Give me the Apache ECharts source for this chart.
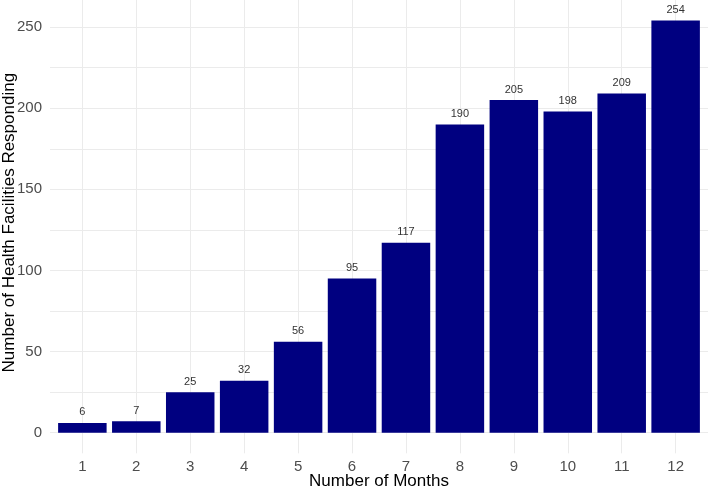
<!DOCTYPE html>
<html>
<head>
<meta charset="utf-8">
<script src="https://cdn.jsdelivr.net/npm/echarts@6/dist/echarts.min.js"></script>
<style>html,body{margin:0;padding:0;background:#fff}#c{width:708px;height:491px}</style>
</head>
<body>
<div id="c"></div>
<script>
const months = [1, 2, 3, 4, 5, 6, 7, 8, 9, 10, 11, 12];
const facilities = [6, 7, 25, 32, 56, 95, 117, 190, 205, 198, 209, 254];
const yTickLabels = [0, 50, 100, 150, 200, 250];
const yGridLines = [0, 25, 50, 75, 100, 125, 150, 175, 200, 225, 250];

const chart = echarts.init(document.getElementById('c'), null, {renderer: 'canvas'});
const font = '"Liberation Sans", Arial, sans-serif';
const option = {
  animation: false,
  grid: {left: 50, right: 0, top: 0, bottom: 37.7, containLabel: false, outerBoundsMode: 'none'},
  xAxis: {
    type: 'value', min: 0.4, max: 12.6,
    name: 'Number of Months', nameLocation: 'middle', nameGap: 20, nameMoveOverlap: false,
    nameTextStyle: {fontFamily: font, fontSize: 17, color: '#000'},
    axisLine: {show: false},
    axisTick: {show: false, customValues: months},
    axisLabel: {customValues: months, fontFamily: font, fontSize: 15, color: '#4d4d4d', margin: 6},
    splitLine: {show: true, lineStyle: {color: '#ebebeb', width: 1}}
  },
  yAxis: {
    type: 'value', min: -12.7, max: 266.7,
    name: 'Number of Health Facilities Responding', nameLocation: 'middle', nameGap: 32, nameMoveOverlap: false,
    nameTextStyle: {fontFamily: font, fontSize: 17, color: '#000', padding: [0, 0, 0, 8]},
    axisLine: {show: false},
    axisTick: {show: false, customValues: yGridLines},
    axisLabel: {customValues: yTickLabels, fontFamily: font, fontSize: 15, color: '#4d4d4d', margin: 8},
    splitLine: {show: true, lineStyle: {color: '#ebebeb', width: 1}}
  },
  series: [{
    type: 'bar',
    data: months.map((m, i) => [m, facilities[i]]),
    barWidth: 48.5,
    itemStyle: {color: '#000080'},
    label: {show: true, position: 'top', distance: 5, fontFamily: font, fontSize: 11, color: '#333'}
  }]
};
chart.setOption(option);
</script>
</body>
</html>
